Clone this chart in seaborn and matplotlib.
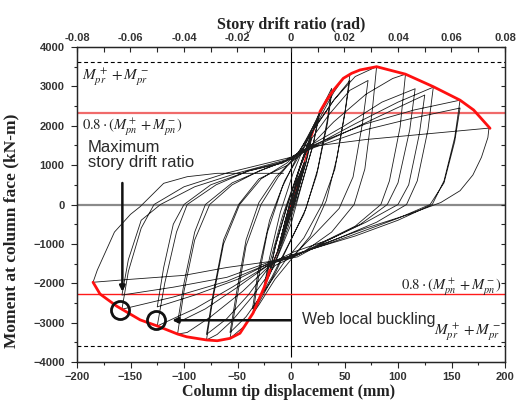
import numpy as np
import pandas as pd
import matplotlib
matplotlib.use("Agg")
import matplotlib.pyplot as plt
import seaborn as sns

sns.set_style("ticks")
plt.rcParams["font.family"] = ["Liberation Sans", "DejaVu Sans"]
plt.rcParams["mathtext.fontset"] = "stix"

# ---------------- data ----------------
# hysteresis history: (column tip displacement mm, moment kN-m), in loading order
loop_0375 = [(0, 0), (4, 380), (9.4, 800), (6, 420), (0, -80), (-5, -500), (-9.4, -880),
             (-6, -480), (-1, 60), (4, 450), (9.4, 820), (6, 440), (0, -60), (-5, -480),
             (-9.4, -870), (-5.5, -420), (0, 100)]
loop_05 = [(0, 100), (6, 600), (12.5, 1080), (9, 700), (2, 0), (-5, -600), (-12.5, -1200),
           (-9, -800), (-2, -100), (5, 550), (12.5, 1060), (8.5, 650), (1.5, -40),
           (-5.5, -620), (-12.5, -1180), (-8.5, -750), (-1, 0)]
loop_075 = [(-1, 0), (8, 900), (19, 1700), (14, 1100), (4, 100), (-8, -900), (-19.6, -1660),
            (-15, -1100), (-4, -50), (7, 850), (19, 1650), (14, 1050), (3, 20), (-9, -950),
            (-19, -1620), (-14, -1000), (-3, 0)]
loop_10 = [(-3, 0), (10, 1100), (20, 1850), (27, 2355), (21, 1550), (10, 500), (0, -500),
           (-12, -1300), (-25, -2100), (-19, -1400), (-8, -300), (5, 700), (15, 1500),
           (26, 2250), (20, 1450), (8, 350), (-3, -600), (-14, -1400), (-25, -2050)]
loop_15 = [(-25, -2050), (-20, -1350), (-10, -200), (2, 800), (15, 1650), (27, 2350), (38, 2950),
           (34, 2150), (25, 900), (14, -100), (0, -900), (-14, -1700), (-25, -2250), (-35.5, -2760),
           (-31, -1950), (-22, -700), (-8, 450), (8, 1350), (22, 2050), (38, 2820),
           (34, 2050), (24, 750), (12, -250), (-3, -1050), (-18, -1850), (-36, -2650)]
loop_20 = [(-36, -2650), (-31, -1750), (-20, -400), (-6, 600), (10, 1350), (26, 2150), (40, 2850),
           (49, 3205), (55, 3290),
           (51, 2450), (43, 1200), (33, 100), (18, -800), (0, -1400), (-15, -1900), (-30, -2550),
           (-44, -3100), (-57, -3400),
           (-51, -2450), (-42, -1050), (-28, 0), (-12, 700), (5, 1250), (22, 1950), (40, 2650),
           (55, 3150),
           (50, 2250), (41, 900), (29, 0), (12, -850), (-6, -1450), (-25, -2200), (-42, -2850),
           (-57, -3250)]
loop_30 = [(-57, -3250), (-51, -2250), (-42, -900), (-30, 50), (-14, 700), (4, 1200), (20, 1850),
           (40, 2650), (60, 3250), (80, 3500),
           (76, 2400), (69, 900), (59, 0), (38, -700), (12, -1200), (-15, -1550), (-35, -2300),
           (-55, -2950), (-69, -3300), (-79, -3440),
           (-73, -2400), (-63, -1000), (-48, 0), (-28, 650), (-4, 1050), (16, 1550), (36, 2300),
           (55, 2900), (72, 3150),
           (67, 2100), (58, 700), (45, -100), (24, -700), (4, -1250), (-18, -1500), (-40, -2300),
           (-60, -2900), (-79, -3300)]
loop_40 = [(-79, -3300), (-73, -2300), (-63, -900), (-49, 0), (-30, 650), (-3, 1000), (15, 1400),
           (40, 2100), (70, 2800), (95, 3200), (107, 3310),
           (102, 1970), (92, 600), (84, 0), (60, -550), (30, -950), (5, -1300), (-18, -1500),
           (-45, -2200), (-75, -2850), (-97, -3250), (-106, -3290),
           (-100, -2200), (-90, -900), (-76, 0), (-55, 500), (-30, 850), (-5, 1100), (18, 1500),
           (50, 2000), (85, 2600), (116, 2940),
           (111, 1900), (100, 550), (90, 0), (65, -500), (35, -900), (3, -1200), (-18, -1480),
           (-50, -2100), (-80, -2650), (-106, -3000)]
loop_50 = [(-106, -3000), (-100, -2000), (-90, -700), (-80, 0), (-55, 550), (-25, 900), (2, 1180),
           (22, 1500), (60, 2050), (100, 2600), (133, 2980),
           (128, 1900), (118, 600), (108, 0), (80, -450), (45, -850), (5, -1280), (-18, -1480),
           (-55, -2100), (-90, -2650), (-125, -3085),
           (-118, -2000), (-107, -700), (-97, 0), (-70, 500), (-40, 850), (-5, 1100), (20, 1450),
           (60, 1950), (95, 2400), (125, 2780),
           (120, 1800), (110, 500), (100, 0), (70, -450), (35, -900), (6, -1330), (-18, -1460),
           (-50, -1900), (-90, -2300), (-125, -2600)]
loop_60 = [(-125, -2600), (-119, -1600), (-110, -500), (-100, 0), (-75, 500), (-40, 850), (-8, 1050),
           (20, 1500), (70, 2050), (115, 2400), (158, 2650),
           (153, 1700), (143, 600), (132, 0), (100, -400), (60, -800), (5, -1250), (-18, -1470),
           (-60, -1950), (-110, -2350), (-158, -2660),
           (-152, -1700), (-140, -600), (-128, 0), (-100, 450), (-60, 800), (0, 1200), (22, 1450),
           (70, 1900), (115, 2200), (158, 2450),
           (153, 1600), (143, 550), (130, 0), (100, -350), (55, -800), (5, -1270), (-18, -1440),
           (-60, -1850), (-110, -2100), (-158, -2300)]
loop_70 = [(-158, -2300), (-152, -1400), (-140, -400), (-122, 0), (-90, 450), (-50, 800), (-5, 1130),
           (18, 1470), (70, 1650), (130, 1800), (185, 1940),
           (184, 1700), (178, 1200), (170, 750), (158, 350), (140, 50), (110, -250), (70, -600),
           (30, -1000), (5, -1280), (-15, -1430), (-60, -1600), (-100, -1800), (-150, -1900),
           (-185, -1975),
           (-181, -1664), (-165, -700), (-150, -250), (-141, -55), (-119, 538), (-97, 706),
           (-69, 792), (-7, 792)]

# backbone envelope (red)
env_pos_disp = [0, 9.4, 12.5, 19, 27, 33.4, 39.6, 48.9, 56.7, 64.5, 80, 107, 133, 158, 170.7, 186]
env_pos_moment = [0, 820, 1080, 1700, 2355, 2654, 2900, 3205, 3332, 3417, 3500, 3310, 2992, 2650, 2400, 1935]
env_neg_disp = [0, -9.4, -12.5, -19.6, -25, -35.5, -47.7, -57, -69, -79, -97.5, -106, -125, -141, -158, -163, -178.5, -185]
env_neg_moment = [0, -880, -1200, -1660, -2100, -2760, -3270, -3400, -3460, -3440, -3360, -3290, -3085, -2930, -2660, -2580, -2273, -1975]
env_band_limit = (27, -19.6)

# reference capacities
mpr_pos, mpr_neg = 3620, -3590
mpn08_pos, mpn08_neg = 2330, -2270
vline_bottom = -3870

# annotation anchors
max_drift_arrow = ((-157.6, 546), (-157.6, -2215))
max_drift_circle = (-160, -2680)
buckling_arrow = ((0, -2940), (-111, -2940))
buckling_circle = (-126, -2930)

height_mm = 2500.0  # drift = displacement / height

# ---------------- build tables ----------------
history = []
for lp in [loop_0375, loop_05, loop_075, loop_10, loop_15, loop_20,
           loop_30, loop_40, loop_50, loop_60, loop_70]:
    history.extend(lp if not history else lp[1:])
hist_df = pd.DataFrame(history, columns=["disp", "moment"])
hist_df["step"] = np.arange(len(hist_df))

env_pos = pd.DataFrame({"disp": env_pos_disp, "moment": env_pos_moment})
env_neg = pd.DataFrame({"disp": env_neg_disp, "moment": env_neg_moment})

# ---------------- figure ----------------
fig = plt.figure(figsize=(5.24, 4.12), dpi=100)
ax = fig.add_axes([77 / 524, 1 - 362 / 412, 428 / 524, 315 / 412])

ax.axhline(0, color="#8a8a8a", lw=1.6, zorder=1)
ax.vlines(0, vline_bottom, 4000, color="black", lw=0.8, zorder=1)
ax.axhline(mpn08_pos, color="#f06a6a", lw=1.6, zorder=1)
ax.axhline(mpn08_neg, color="#ff1a1a", lw=1.0, zorder=1)
ax.axhline(mpr_pos, color="black", lw=0.8, ls=(0, (3.5, 2.5)), zorder=1)
ax.axhline(mpr_neg, color="black", lw=0.8, ls=(0, (3.5, 2.5)), zorder=1)

# red envelope: thin inside the elastic band, thick outside
for env, lim in [(env_pos, env_band_limit[0]), (env_neg, env_band_limit[1])]:
    inner = env[env["disp"].abs() <= abs(lim)]
    outer = env[env["disp"].abs() >= abs(lim)]
    sns.lineplot(data=inner, x="disp", y="moment", sort=False, estimator=None,
                 color="#e01010", lw=1.0, ax=ax, zorder=2)
    sns.lineplot(data=outer, x="disp", y="moment", sort=False, estimator=None,
                 color="#ff1010", lw=2.0, ax=ax, zorder=4)

sns.lineplot(data=hist_df, x="disp", y="moment", sort=False, estimator=None,
             color="#1c1c1c", lw=0.6, ax=ax, zorder=3)

# annotations
ax.annotate("", xy=max_drift_arrow[1], xytext=max_drift_arrow[0],
            arrowprops=dict(arrowstyle="-|>", color="#111111", lw=1.8,
                            mutation_scale=8, shrinkA=0, shrinkB=0), zorder=6)
ax.annotate("", xy=buckling_arrow[1], xytext=buckling_arrow[0],
            arrowprops=dict(arrowstyle="-|>", color="#111111", lw=1.8,
                            mutation_scale=8, shrinkA=0, shrinkB=0), zorder=6)
for c in [max_drift_circle, buckling_circle]:
    ax.plot([c[0]], [c[1]], marker="o", ms=13, mfc="none", mec="#111111", mew=2.0, zorder=7)

ax.text(-190, 1640, "Maximum\nstory drift ratio", ha="left", va="top", fontsize=12,
        color="#2a2a2a", linespacing=1.0, zorder=8)
ax.text(10, -2930, "Web local buckling", ha="left", va="center", fontsize=11.5,
        color="#2a2a2a", zorder=8)

lab_mpr = r"$M^{\,+}_{pr}+M^{\,-}_{pr}$"
lab_mpn = r"$0.8\cdot(M^+_{pn}+M^-_{pn})$"
ax.text(-195, 3240, lab_mpr, ha="left", va="center", fontsize=11, color="#222222")
ax.text(-195, 1970, lab_mpn, ha="left", va="center", fontsize=10.5, color="#222222")
ax.text(197, -2110, lab_mpn, ha="right", va="center", fontsize=10.5, color="#222222")
ax.text(197, -3250, lab_mpr, ha="right", va="center", fontsize=11, color="#222222")

# axes styling
ax.set_xlim(-200, 200)
ax.set_ylim(-4000, 4000)
ax.set_xticks(np.arange(-200, 201, 50))
ax.set_xticks(np.arange(-200, 201, 25), minor=True)
ax.set_yticks(np.arange(-4000, 4001, 1000))
ax.set_yticks(np.arange(-4000, 4001, 500), minor=True)
ax.tick_params(axis="both", which="major", direction="out", length=4, width=0.8,
               labelsize=8, labelcolor="#333333", pad=3)
ax.tick_params(axis="y", which="major", pad=5)
ax.tick_params(axis="both", which="minor", direction="out", length=2.5, width=0.8)
for lab in ax.get_xticklabels() + ax.get_yticklabels():
    lab.set_fontweight("bold")
for s in ax.spines.values():
    s.set_visible(True)
    s.set_linewidth(0.9)
    s.set_color("black")

ax.set_xlabel("Column tip displacement (mm)", family=["Liberation Serif"], fontweight="bold",
              fontsize=11.5, color="#222222")
ax.xaxis.set_label_coords(0.495, -0.07)
ax.set_ylabel("Moment at column face (kN-m)", family=["Liberation Serif"], fontweight="bold",
              fontsize=12.5, color="#222222")
ax.yaxis.set_label_coords(-0.135, 0.416)

# right-side inward ticks
axr = ax.twinx()
axr.set_ylim(-4000, 4000)
axr.set_yticks(np.arange(-4000, 4001, 500))
axr.tick_params(axis="y", direction="in", length=3, width=0.8, labelright=False)

# top drift-ratio axis
axt = ax.twiny()
axt.set_xlim(-200 / height_mm, 200 / height_mm)
axt.set_xticks(np.arange(-0.08, 0.0801, 0.02))
axt.set_xticks(np.arange(-0.08, 0.0801, 0.01), minor=True)
axt.set_xticklabels(["-0.08", "-0.06", "-0.04", "-0.02", "0", "0.02", "0.04", "0.06", "0.08"])
axt.tick_params(axis="x", which="both", direction="in", length=3.5, width=0.8,
                labelsize=8, labelcolor="#333333", pad=3)
for lab in axt.get_xticklabels():
    lab.set_fontweight("bold")
axt.set_xlabel("Story drift ratio (rad)", family=["Liberation Serif"], fontweight="bold",
               fontsize=11.5, color="#222222", labelpad=3)

fig.savefig("out.png", dpi=100)
